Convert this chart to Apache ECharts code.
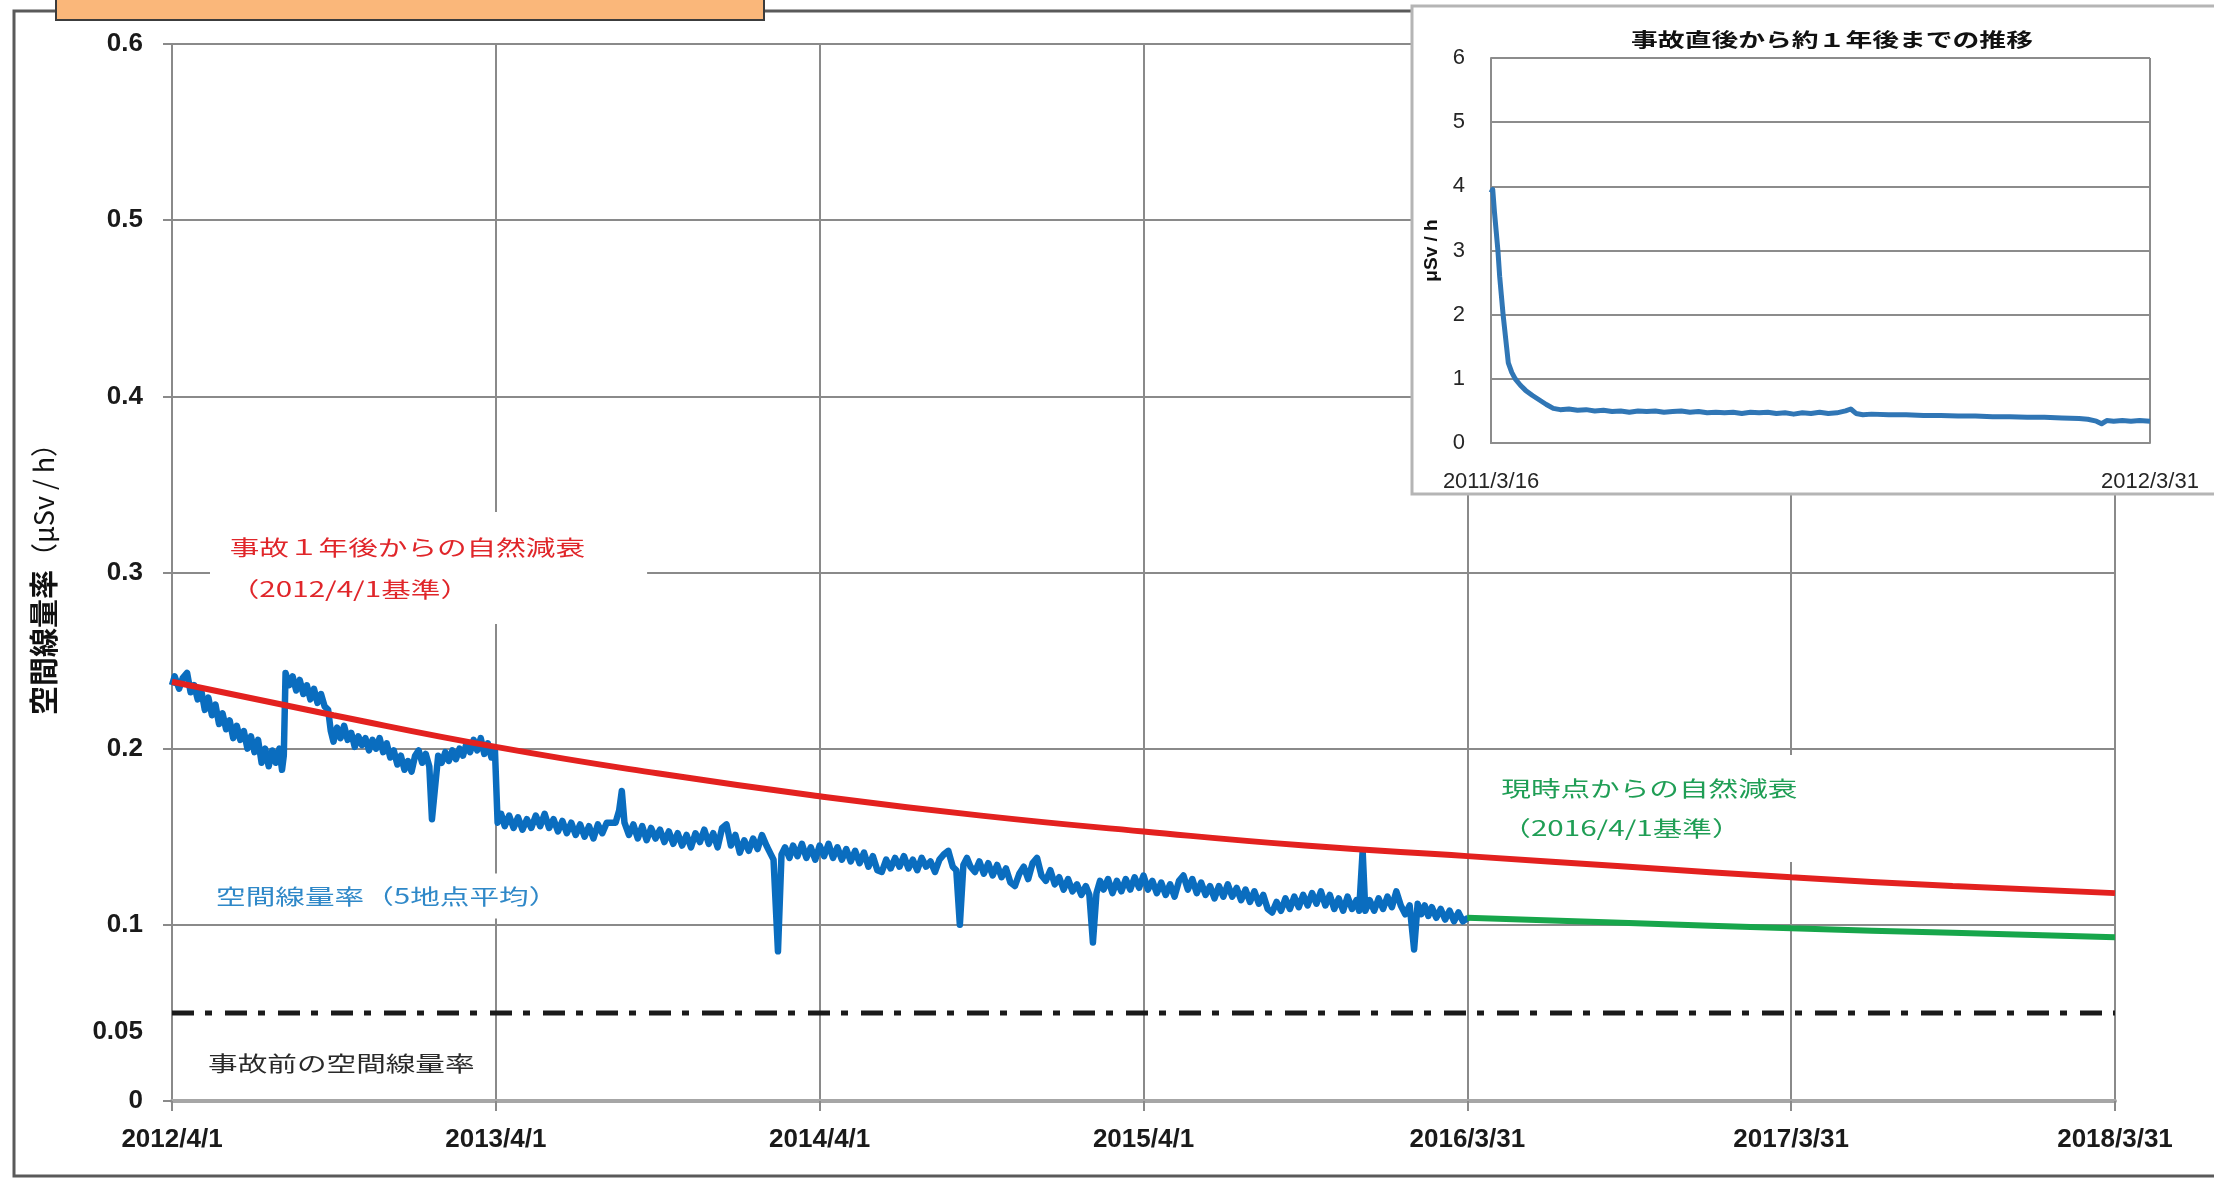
<!DOCTYPE html>
<html>
<head>
<meta charset="UTF-8">
<title>空間線量率の推移</title>
<script src="https://cdn.jsdelivr.net/npm/echarts@6.0.0/dist/echarts.min.js"></script>
<style>
  html, body { margin: 0; padding: 0; background: #fff; }
  #main { width: 2214px; height: 1178px; }
</style>
</head>
<body>
<div id="main"></div>
<script type="text/javascript">
    // x軸は 2012/4/1 からの経過日数
    var xTickLabels = ['2012/4/1', '2013/4/1', '2014/4/1', '2015/4/1', '2016/3/31', '2017/3/31', '2018/3/31'];
    // 小グラフの x軸は 2011/3/16 からの経過日数
    var insetTickLabels = ['2011/3/16', '2012/3/31'];

    // 空間線量率（5地点平均） [日, μSv/h]
    var measured = [
        [0,0.236],[3,0.241],[8,0.234],[12,0.240],[17,0.243],[21,0.232],[25,0.236],[29,0.228],[33,0.233],[37,0.222],
        [41,0.229],[45,0.219],[49,0.225],[53,0.214],[57,0.220],[61,0.211],[65,0.216],[69,0.206],[73,0.213],[77,0.205],
        [81,0.210],[85,0.200],[89,0.207],[93,0.198],[97,0.205],[101,0.192],[105,0.200],[109,0.190],[113,0.199],[117,0.192],
        [121,0.200],[124,0.188],[126,0.196],
        [128,0.243],[132,0.236],[136,0.241],[140,0.233],[144,0.239],[148,0.231],[152,0.236],[156,0.228],[160,0.234],[164,0.226],
        [168,0.231],[172,0.224],[176,0.222],[179,0.210],[182,0.204],[186,0.212],[190,0.206],[194,0.213],[198,0.205],[202,0.209],
        [206,0.201],[210,0.207],[214,0.202],[218,0.206],[222,0.199],[226,0.205],[230,0.200],[234,0.206],[238,0.198],[242,0.203],
        [246,0.195],[250,0.199],[254,0.191],[258,0.196],[262,0.188],[266,0.193],[270,0.187],[274,0.196],[278,0.199],[282,0.192],
        [286,0.197],[290,0.190],[293,0.160],[300,0.196],[304,0.192],[308,0.198],[312,0.193],[316,0.199],[320,0.194],[324,0.200],
        [328,0.196],[332,0.203],[336,0.198],[340,0.205],[344,0.199],[348,0.206],[352,0.197],[356,0.203],[360,0.195],[364,0.199],
        [367,0.158],[371,0.163],[375,0.156],[380,0.162],[385,0.155],[390,0.161],[395,0.154],[400,0.160],[405,0.155],[410,0.162],
        [415,0.156],[420,0.163],[425,0.155],[430,0.160],[435,0.153],[440,0.159],[445,0.152],[450,0.158],[455,0.151],[460,0.157],
        [465,0.150],[470,0.156],[475,0.149],[480,0.157],[485,0.152],[490,0.158],[500,0.158],[504,0.165],[507,0.176],[510,0.158],
        [515,0.151],[520,0.157],[525,0.149],[530,0.156],[535,0.148],[540,0.155],[545,0.149],[550,0.154],[555,0.147],[560,0.153],
        [565,0.146],[570,0.152],[575,0.145],[580,0.151],[585,0.144],[590,0.152],[595,0.147],[600,0.154],[605,0.146],[610,0.152],
        [615,0.144],[620,0.155],[625,0.157],[630,0.145],[635,0.151],[640,0.141],[645,0.148],[650,0.142],[655,0.149],[660,0.143],
        [665,0.151],[670,0.145],[675,0.140],[678,0.137],[683,0.085],[687,0.140],[691,0.144],[696,0.138],[700,0.145],[705,0.139],
        [710,0.146],[715,0.138],[720,0.144],[725,0.137],[730,0.145],[735,0.139],[740,0.146],[745,0.138],[750,0.144],[755,0.137],
        [760,0.143],[765,0.136],[770,0.142],[775,0.135],[780,0.141],[785,0.133],[790,0.139],[795,0.131],[800,0.130],[805,0.137],
        [810,0.132],[815,0.138],[820,0.133],[825,0.139],[830,0.132],[835,0.137],[840,0.131],[845,0.138],[850,0.133],[855,0.136],
        [860,0.130],[865,0.137],[870,0.140],[875,0.142],[880,0.133],[884,0.131],[888,0.100],[892,0.134],[896,0.138],[900,0.133],
        [905,0.130],[910,0.136],[915,0.129],[920,0.135],[925,0.128],[930,0.134],[935,0.127],[940,0.132],[945,0.124],[950,0.122],
        [955,0.129],[960,0.133],[965,0.126],[970,0.135],[975,0.138],[980,0.128],[985,0.125],[990,0.131],[995,0.123],[1000,0.127],
        [1005,0.120],[1010,0.126],[1015,0.119],[1020,0.123],[1025,0.117],[1030,0.122],[1034,0.117],[1038,0.090],[1042,0.118],[1046,0.125],
        [1050,0.120],[1055,0.126],[1060,0.118],[1065,0.125],[1070,0.119],[1075,0.126],[1080,0.120],[1085,0.127],[1090,0.121],[1095,0.128],
        [1100,0.120],[1105,0.125],[1110,0.118],[1115,0.124],[1120,0.117],[1125,0.123],[1130,0.116],[1135,0.125],[1140,0.128],[1145,0.120],
        [1150,0.126],[1155,0.118],[1160,0.124],[1165,0.117],[1170,0.122],[1175,0.115],[1180,0.122],[1185,0.116],[1190,0.123],[1195,0.116],
        [1200,0.121],[1205,0.114],[1210,0.120],[1215,0.113],[1220,0.119],[1225,0.112],[1230,0.117],[1235,0.109],[1240,0.107],[1245,0.113],
        [1250,0.108],[1255,0.115],[1260,0.109],[1265,0.116],[1270,0.110],[1275,0.117],[1280,0.111],[1285,0.118],[1290,0.112],[1295,0.119],
        [1300,0.111],[1305,0.117],[1310,0.109],[1315,0.115],[1320,0.108],[1325,0.116],[1330,0.109],[1335,0.114],[1338,0.108],[1342,0.142],
        [1345,0.108],[1350,0.114],[1355,0.108],[1360,0.115],[1365,0.109],[1370,0.116],[1375,0.110],[1380,0.119],[1385,0.111],[1390,0.106],
        [1395,0.111],[1400,0.086],[1404,0.112],[1408,0.106],[1412,0.111],[1416,0.105],[1420,0.110],[1425,0.104],[1430,0.109],[1435,0.103],
        [1440,0.108],[1445,0.102],[1450,0.107],[1455,0.102],[1461,0.104]
    ];

    // 事故1年後からの自然減衰（2012/4/1基準）
    var decay2012 = [[0,0.238],[182,0.219],[365,0.201],[547,0.186],[730,0.173],[912,0.162],[1095,0.153],
        [1277,0.145],[1460,0.139],[1642,0.133],[1825,0.127],[2007,0.122],[2190,0.118]];
    // 現時点からの自然減衰（2016/4/1基準）
    var decay2016 = [[1460,0.104],[1642,0.101],[1825,0.098],[2007,0.0955],[2190,0.093]];
    // 事故前の空間線量率
    var preAccident = [[0,0.05],[2190,0.05]];

    // 事故直後から約1年後までの推移 [日, μSv/h]
    var earlyRate = [
        [0,3.90],[1,3.95],[2,3.60],[3,3.30],[4,3.00],[5,2.60],[6,2.30],[7,2.00],[8,1.75],[9,1.50],
        [10,1.25],[12,1.10],[14,1.00],[17,0.90],[20,0.82],[24,0.74],[28,0.67],[32,0.60],[36,0.54],[40,0.52],
        [45,0.53],[50,0.51],[55,0.52],[60,0.50],[65,0.51],[70,0.49],[75,0.50],[80,0.48],[85,0.50],[90,0.49],
        [95,0.50],[100,0.48],[105,0.49],[110,0.50],[115,0.48],[120,0.49],[125,0.47],[130,0.48],[135,0.47],[140,0.48],
        [145,0.46],[150,0.48],[155,0.47],[160,0.48],[165,0.46],[170,0.47],[175,0.45],[180,0.47],[185,0.46],[190,0.48],
        [195,0.46],[200,0.47],[205,0.50],[208,0.53],[211,0.46],[215,0.44],[220,0.45],[230,0.44],[240,0.44],[250,0.43],
        [260,0.43],[270,0.42],[280,0.42],[290,0.41],[300,0.41],[310,0.40],[320,0.40],[330,0.39],[340,0.38],[345,0.37],
        [350,0.34],[353,0.30],[356,0.35],[360,0.34],[365,0.35],[370,0.34],[375,0.35],[381,0.34]
    ];

    var myChart = echarts.init(document.getElementById('main'));

    var labelFont = '"Liberation Sans", Arial, sans-serif';
    var jpFont = '"Noto Sans CJK JP", sans-serif';
    var gridGray = '#8a8a8a';

    option = {
        animation: false,
        backgroundColor: '#ffffff',
        grid: [
            {left: 172, right: 99, top: 44, bottom: 77},
            {left: 1491, right: 64, top: 58, bottom: 735}
        ],
        xAxis: [
            {
                type: 'value', gridIndex: 0, min: 0, max: 2190, interval: 365,
                axisLine: {show: true, lineStyle: {color: '#a6a6a6', width: 4}},
                axisTick: {show: true, length: 10, lineStyle: {color: gridGray, width: 2}},
                splitLine: {show: true, lineStyle: {color: gridGray, width: 2}},
                axisLabel: {
                    margin: 26, color: '#1a1a1a', fontSize: 26, fontWeight: 'bold', fontFamily: labelFont,
                    formatter: function (v) { return xTickLabels[Math.round(v / 365)]; }
                }
            },
            {
                type: 'value', gridIndex: 1, min: 0, max: 381, interval: 381, z: 3,
                axisLine: {show: true, lineStyle: {color: '#8c8c8c', width: 2}},
                axisTick: {show: false},
                splitLine: {show: true, lineStyle: {color: '#8c8c8c', width: 2}},
                axisLabel: {
                    margin: 28, color: '#262626', fontSize: 22, fontFamily: labelFont,
                    formatter: function (v) { return insetTickLabels[Math.round(v / 381)]; }
                }
            }
        ],
        yAxis: [
            {
                type: 'value', gridIndex: 0, position: 'left', min: 0, max: 0.6, interval: 0.05,
                axisLine: {show: false}, axisTick: {show: false}, splitLine: {show: false},
                axisLabel: {
                    margin: 29, color: '#1a1a1a', fontSize: 26, fontWeight: 'bold', fontFamily: labelFont,
                    formatter: function (v) {
                        var r = Math.round(v * 100);
                        if (r === 5) return '{low|0.05}';
                        if (r % 10 === 0) return String(r / 100);
                        return '';
                    },
                    rich: {
                        low: {padding: [38, 0, 0, 0], color: '#1a1a1a', fontSize: 26, fontWeight: 'bold', fontFamily: labelFont}
                    }
                },
                name: '{b|空間線量率}{n|（μSv / h）}',
                nameLocation: 'middle', nameGap: 114, nameRotate: 90,
                nameTextStyle: {
                    rich: {
                        b: {fontSize: 29, fontWeight: 'bold', color: '#111', fontFamily: jpFont},
                        n: {fontSize: 27, color: '#111', fontFamily: jpFont}
                    }
                }
            },
            {
                type: 'value', gridIndex: 0, position: 'left', min: 0, max: 0.6, interval: 0.1,
                axisLine: {show: false},
                axisTick: {show: true, length: 9, lineStyle: {color: gridGray, width: 2}},
                axisLabel: {show: false},
                splitLine: {show: true, lineStyle: {color: gridGray, width: 2}}
            },
            {
                type: 'value', gridIndex: 1, min: 0, max: 6, interval: 1, z: 3,
                axisLine: {show: true, lineStyle: {color: '#8c8c8c', width: 2}},
                axisTick: {show: false},
                splitLine: {show: true, lineStyle: {color: '#8c8c8c', width: 2}},
                axisLabel: {margin: 26, color: '#262626', fontSize: 22, fontFamily: labelFont},
                name: 'μSv / h', nameLocation: 'middle', nameGap: 50, nameRotate: 90,
                nameTextStyle: {fontSize: 19, fontWeight: 'bold', color: '#111', fontFamily: labelFont}
            }
        ],
        series: [
            {
                name: '事故前の空間線量率', type: 'line', xAxisIndex: 0, yAxisIndex: 0,
                data: preAccident, showSymbol: false, z: 2,
                lineStyle: {color: '#1a1a1a', width: 5, type: [22, 11, 7, 13]}
            },
            {
                name: '空間線量率（5地点平均）', type: 'line', xAxisIndex: 0, yAxisIndex: 0,
                data: measured, showSymbol: false, z: 2,
                lineStyle: {color: '#0a6dbf', width: 6.5, join: 'round'}
            },
            {
                name: '事故1年後からの自然減衰', type: 'line', xAxisIndex: 0, yAxisIndex: 0,
                data: decay2012, showSymbol: false, smooth: true, z: 3,
                lineStyle: {color: '#e3211f', width: 6}
            },
            {
                name: '現時点からの自然減衰', type: 'line', xAxisIndex: 0, yAxisIndex: 0,
                data: decay2016, showSymbol: false, smooth: true, z: 3,
                lineStyle: {color: '#17a64b', width: 6}
            },
            {
                name: '事故直後から約1年後までの推移', type: 'line', xAxisIndex: 1, yAxisIndex: 2,
                data: earlyRate, showSymbol: false, z: 4,
                lineStyle: {color: '#3076b5', width: 5, join: 'round'}
            }
        ],
        graphic: [
            // 外枠
            {type: 'rect', z: 0, silent: true, shape: {x: 14, y: 11, width: 2230, height: 1165},
                style: {fill: null, stroke: '#5a5a5a', lineWidth: 3}},
            // 小グラフの枠
            {type: 'rect', z: 1, silent: true, shape: {x: 1412, y: 6, width: 820, height: 488},
                style: {fill: '#ffffff', stroke: '#b5b5b5', lineWidth: 3}},
            // 見出し（上端で切れている）
            {type: 'rect', z: 5, silent: true, shape: {x: 56, y: -6, width: 708, height: 26},
                style: {fill: '#fab77a', stroke: '#3c3c3c', lineWidth: 2}},
            {type: 'text', z: 5, silent: true, x: 1832, y: 40, scaleX: 1.41,
                style: {text: '事故直後から約１年後までの推移', fill: '#111', fontSize: 19, fontWeight: 'bold',
                    fontFamily: jpFont, align: 'center', verticalAlign: 'middle'}},
            // 注記
            {type: 'text', z: 1, silent: true, x: 210, y: 512, scaleX: 1.41,
                style: {text: '事故１年後からの自然減衰\n（2012/4/1基準）', fill: '#e0262a', fontSize: 21, lineHeight: 42,
                    fontFamily: jpFont, backgroundColor: '#ffffff', padding: [14, 44, 14, 14]}},
            {type: 'text', z: 1, silent: true, x: 202, y: 896, scaleX: 1.41,
                style: {text: '空間線量率（5地点平均）', fill: '#2f88c8', fontSize: 21, verticalAlign: 'middle',
                    fontFamily: jpFont, backgroundColor: '#ffffff', padding: [12, 8, 12, 10]}},
            {type: 'text', z: 1, silent: true, x: 194, y: 1063, scaleX: 1.41,
                style: {text: '事故前の空間線量率', fill: '#2a2a2a', fontSize: 21, verticalAlign: 'middle',
                    fontFamily: jpFont, backgroundColor: '#ffffff', padding: [14, 8, 14, 10]}},
            {type: 'text', z: 1, silent: true, x: 1490, y: 755, scaleX: 1.41,
                style: {text: '現時点からの自然減衰\n（2016/4/1基準）', fill: '#1f9e55', fontSize: 21, lineHeight: 40,
                    fontFamily: jpFont, backgroundColor: '#ffffff', padding: [13, 30, 14, 8]}}
        ]
    };

    myChart.setOption(option);
</script>
</body>
</html>
